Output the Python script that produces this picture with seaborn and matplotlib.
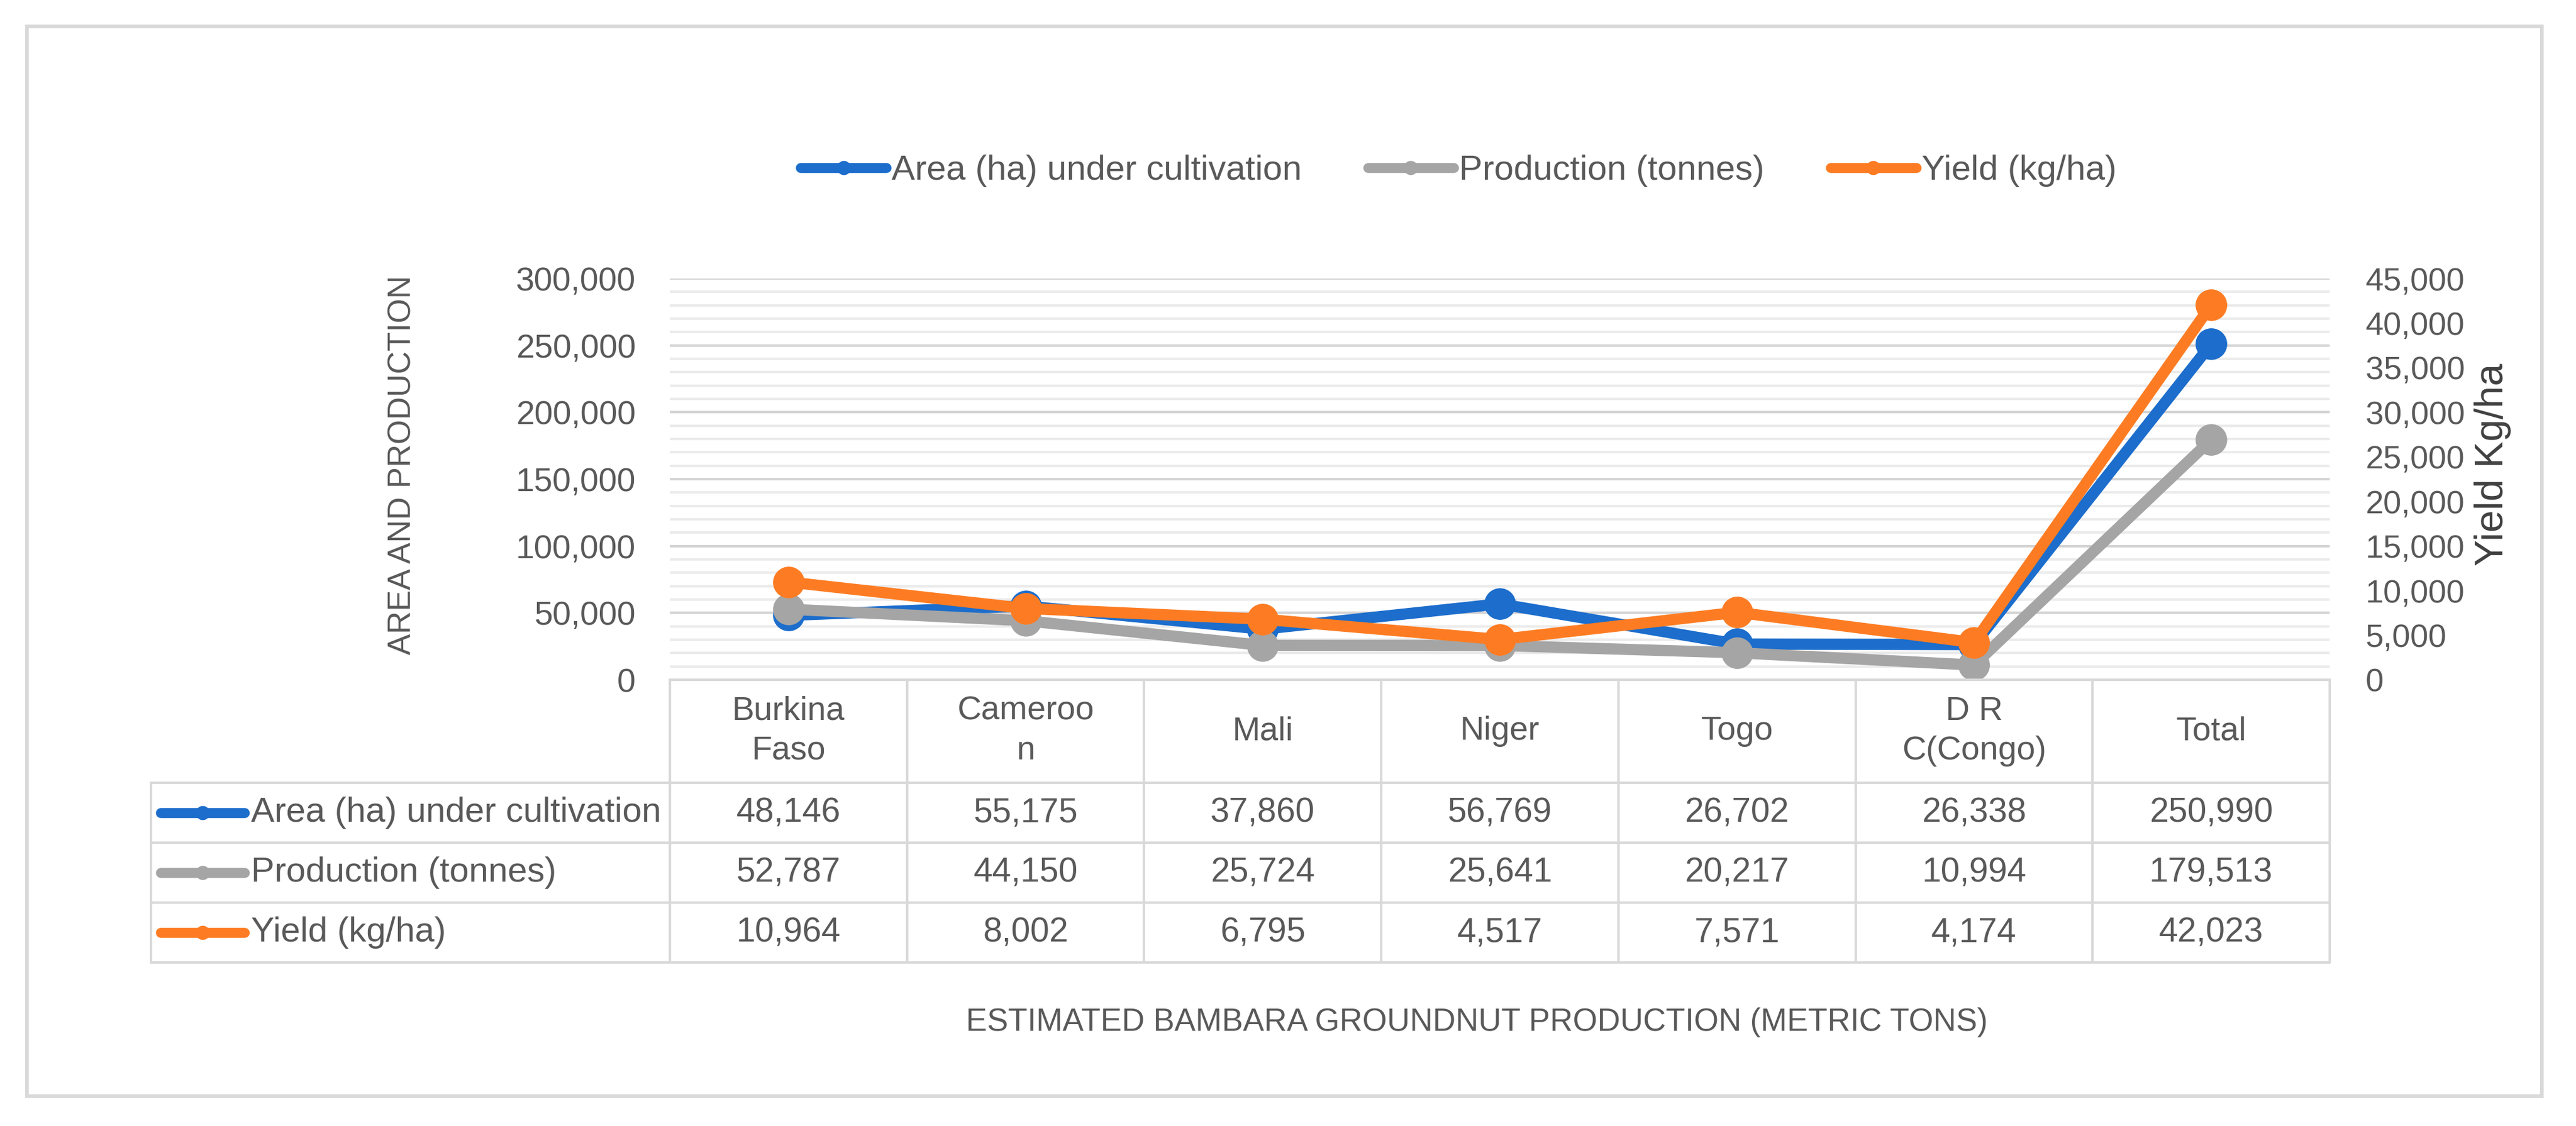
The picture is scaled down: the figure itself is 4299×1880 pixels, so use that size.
import matplotlib
matplotlib.use("Agg")
import matplotlib.pyplot as plt
import seaborn as sns
from matplotlib.lines import Line2D
from matplotlib.patches import Rectangle
from matplotlib import transforms
from matplotlib.ticker import FuncFormatter, MultipleLocator

# ---------------- data ----------------
categories = ["Burkina\nFaso", "Cameroo\nn", "Mali", "Niger", "Togo", "D R\nC(Congo)", "Total"]
area = [48146, 55175, 37860, 56769, 26702, 26338, 250990]
production = [52787, 44150, 25724, 25641, 20217, 10994, 179513]
yield_kg = [10964, 8002, 6795, 4517, 7571, 4174, 42023]
series_names = ["Area (ha) under cultivation", "Production (tonnes)", "Yield (kg/ha)"]
left_ticks = list(range(0, 300001, 50000))
right_ticks = list(range(0, 45001, 5000))
left_label = "AREA AND PRODUCTION"
right_label = "Yield Kg/ha"
x_title = "ESTIMATED BAMBARA GROUNDNUT PRODUCTION (METRIC TONS)"

BLUE = "#1c6dcc"
GRAY = "#a5a5a5"
ORANGE = "#fd7c23"
TXT = "#595959"
LINEC = "#d9d9d9"
colors = [BLUE, GRAY, ORANGE]

sns.set_theme(style="white")
FONT = ["Liberation Sans", "DejaVu Sans"]
plt.rcParams["font.family"] = FONT

W, H = 4299, 1880
fig = plt.figure(figsize=(W / 100, H / 100), dpi=100)
fig.patch.set_facecolor("white")


def fx(px):
    return px / W


def fy(py):
    return 1 - py / H


PL, PR, PT, PB = 1118, 3888, 465, 1135
ax = fig.add_axes([fx(PL), fy(PB), (PR - PL) / W, (PB - PT) / H])
ax.set_facecolor("none")
xs = list(range(len(categories)))

LW = 13.5
MS = 38
sns.lineplot(x=xs, y=area, ax=ax, color=BLUE, linewidth=LW, marker="o",
             markersize=MS, markeredgewidth=0, clip_on=False)
sns.lineplot(x=xs, y=production, ax=ax, color=GRAY, linewidth=LW, marker="o",
             markersize=MS, markeredgewidth=0, clip_on=False)
ax2 = ax.twinx()
sns.lineplot(x=xs, y=yield_kg, ax=ax2, color=ORANGE, linewidth=LW, marker="o",
             markersize=MS, markeredgewidth=0, clip_on=False)

ax.set_xlim(-0.5, len(categories) - 0.5)
ax.set_ylim(0, 300000)
ax2.set_ylim(0, 45000)
ax.set_xticks([])
ax2.set_xticks([])
ax.set_xlabel("")
ax.set_ylabel("")
ax2.set_ylabel("")

ax.yaxis.set_major_locator(MultipleLocator(50000))
ax.yaxis.set_minor_locator(MultipleLocator(10000))
ax.set_yticks(left_ticks)
ax.yaxis.set_major_formatter(FuncFormatter(lambda v, p: f"{int(v):,}"))
ax.grid(True, which="major", axis="y", color="#d4d4d4", linewidth=3)
ax.grid(True, which="minor", axis="y", color="#ebebeb", linewidth=3)
ax.grid(False, axis="x")
ax.set_axisbelow(True)
ax2.grid(False)
ax.tick_params(axis="y", which="both", length=0, pad=41, labelsize=40, labelcolor=TXT)
ax2.set_yticks(right_ticks)
ax2.set_yticklabels([f"{v:,}" for v in right_ticks])
ax2.tick_params(axis="y", which="both", length=0, pad=43, labelsize=39, labelcolor=TXT)
for a in (ax, ax2):
    for s in a.spines.values():
        s.set_visible(False)

# axis titles
fig.text(fx(672), fy(776), left_label, rotation=90, ha="center", va="center",
         fontsize=38, color=TXT)
fig.text(fx(4160), fy(776), right_label, rotation=90, ha="center", va="center",
         fontsize=48, color="#404040")

# legend
handles = [Line2D([0], [0], color=c, lw=12, marker="o", markersize=17, markeredgewidth=0)
           for c in colors]
fig.legend(handles, series_names, loc="center", bbox_to_anchor=(fx(2434), fy(285)),
           ncol=3, frameon=False, fontsize=42, handlelength=2.45, handletextpad=0.15,
           columnspacing=1.9, labelcolor=TXT)

# data table
trans = transforms.blended_transform_factory(ax.transData, fig.transFigure)
TLW = 3
HDR_TOP, ROWS = 1135, [1307, 1407, 1507, 1607]
RH_LEFT = 252
xmin, xmax = -0.5, len(categories) - 0.5
fig.add_artist(Line2D([xmin, xmax], [fy(HDR_TOP)] * 2, transform=trans, color=LINEC, lw=TLW))
for yy in ROWS:
    fig.add_artist(Line2D([fx(RH_LEFT), fx(PL)], [fy(yy)] * 2, transform=fig.transFigure,
                          color=LINEC, lw=TLW))
    fig.add_artist(Line2D([xmin, xmax], [fy(yy)] * 2, transform=trans, color=LINEC, lw=TLW))
for i in range(len(categories) + 1):
    fig.add_artist(Line2D([i - 0.5, i - 0.5], [fy(HDR_TOP), fy(ROWS[-1])], transform=trans,
                          color=LINEC, lw=TLW))
fig.add_artist(Line2D([fx(RH_LEFT)] * 2, [fy(ROWS[0]), fy(ROWS[-1])], transform=fig.transFigure,
                      color=LINEC, lw=TLW))

for i, cat in enumerate(categories):
    fig.text(i, fy((HDR_TOP + ROWS[0]) / 2), cat, transform=trans, ha="center", va="center",
             fontsize=40, color=TXT, linespacing=1.35)

for r, (vals, name, c) in enumerate(zip([area, production, yield_kg], series_names, colors)):
    yc = fy((ROWS[r] + ROWS[r + 1]) / 2)
    for i, v in enumerate(vals):
        fig.text(i, yc, f"{v:,}", transform=trans, ha="center", va="center",
                 fontsize=41, color=TXT)
    fig.add_artist(Line2D([fx(268), fx(338), fx(408)], [yc] * 3, transform=fig.transFigure,
                          color=c, lw=12, marker="o", markevery=[1], markersize=17,
                          markeredgewidth=0, solid_capstyle="round"))
    fig.text(fx(419), yc, name, ha="left", va="center", fontsize=42, color=TXT)

# bottom title
fig.text(fx(2465), fy(1707), x_title, ha="center", va="center", fontsize=38, color=TXT)

# outer border
fig.add_artist(Rectangle((fx(45), fy(1830)), (4242 - 45) / W, (1830 - 44) / H,
                         transform=fig.transFigure, fill=False, ec=LINEC, lw=4.3))

fig.savefig("out.png", dpi=100, facecolor="white")
